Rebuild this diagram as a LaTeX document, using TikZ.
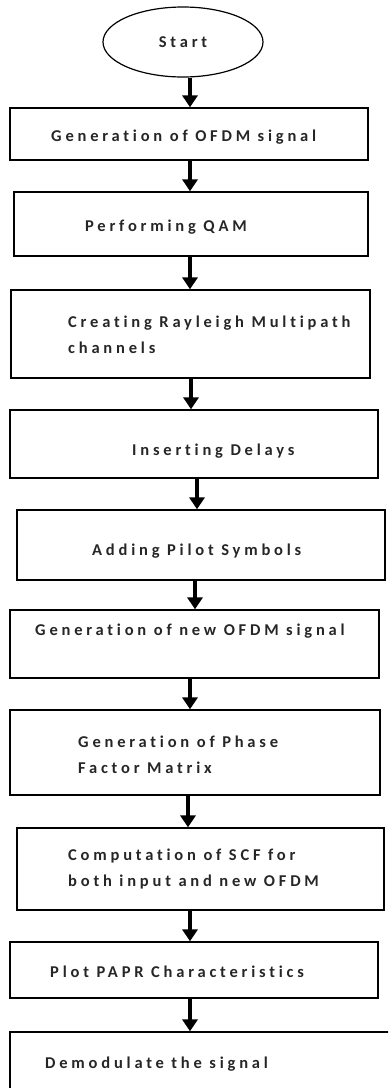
\documentclass[tikz,border=0pt]{standalone}
\usepackage{fontspec}
\setmainfont[BoldFont={Carlito Bold}]{Carlito}
\newfontfamily\flowfont[LetterSpace=23,Ligatures={NoCommon}]{Carlito Bold}
\usetikzlibrary{arrows.meta,shapes.geometric}

\begin{document}
\begin{tikzpicture}[x=1bp,y=-1bp,
    box/.style={draw,line width=1.3bp,inner sep=0pt},
    txt/.style={anchor=north west,inner sep=0pt,align=left,text=black!85,
        font=\flowfont\fontsize{16.5bp}{26bp}\selectfont},
    flow/.style={line width=3.5bp,-{Triangle[width=15bp,length=12bp]}}]
        \useasboundingbox (0,0) rectangle (388,1088);
        \clip (0,0) rectangle (388,1088);
        % start
        \node[ellipse,draw,line width=1.2bp,minimum width=160bp,minimum height=70bp,
            text=black!85,font=\flowfont\fontsize{16.5bp}{18bp}\selectfont] (start) at (183,42) {Start};
        % boxes
        \node[box,minimum width=358bp,minimum height=52bp] (b1) at (189,134) {};
        \node[box,minimum width=354bp,minimum height=64bp] (b2) at (191,224) {};
        \node[box,minimum width=359bp,minimum height=88bp] (b3) at (190.5,334) {};
        \node[box,minimum width=368bp,minimum height=68bp] (b4) at (194,444) {};
        \node[box,minimum width=368bp,minimum height=70bp] (b5) at (201,545) {};
        \node[box,minimum width=369bp,minimum height=68bp] (b6) at (194.5,644) {};
        \node[box,minimum width=370bp,minimum height=85bp] (b7) at (195,752.5) {};
        \node[box,minimum width=367bp,minimum height=82bp] (b8) at (200.5,869) {};
        \node[box,minimum width=368bp,minimum height=56bp] (b9) at (194,970) {};
        \node[box,minimum width=390bp,minimum height=68bp] (b10) at (205,1066) {};
        % texts
        \node[txt] (t1) at (51,130) {Generation of OFDM signal};
        \node[txt] (t2) at (85,220) {Performing QAM};
        \node[txt] (t3) at (68,316) {Creating Rayleigh Multipath\\channels};
        \node[txt] (t4) at (132,444) {Inserting Delays};
        \node[txt] (t5) at (92,544) {Adding Pilot Symbols};
        \node[txt] (t6) at (35,624) {Generation of new OFDM signal};
        \node[txt] (t7) at (78,736) {Generation of Phase\\Factor Matrix};
        \node[txt] (t8) at (68,849) {Computation of SCF for\\both input and new OFDM};
        \node[txt] (t9) at (50,966) {Plot PAPR Characteristics};
        \node[txt] (t10) at (45,1057) {Demodulate the signal};
        % arrows
        \foreach \a/\b/\x in {start/b1/190,b1/b2/190,b2/b3/190,b3/b4/191,b4/b5/197,
            b5/b6/195,b6/b7/190,b7/b8/188,b8/b9/190,b9/b10/190}
        \draw[flow] (\a.south -| \x,0) -- (\b.north -| \x,0);
    \end{tikzpicture}
\end{document}
